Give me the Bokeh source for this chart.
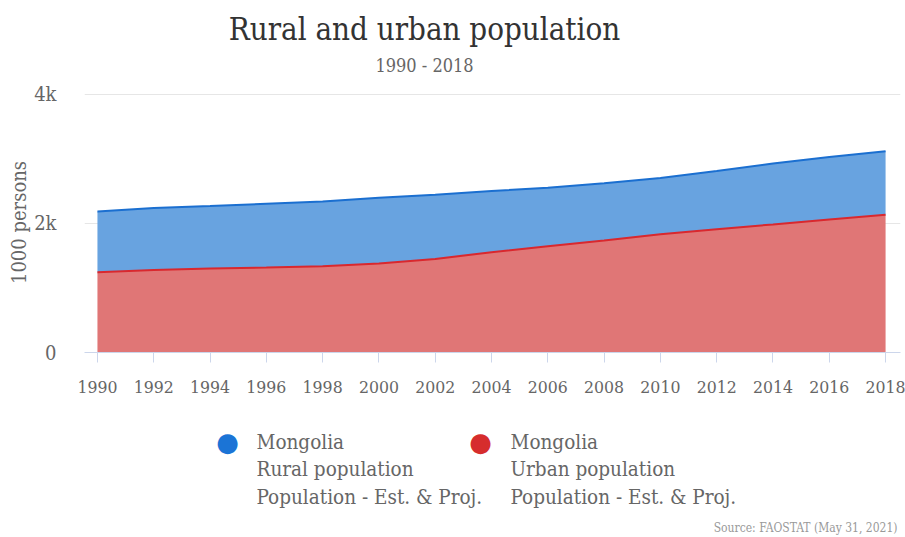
from bokeh.plotting import figure
from bokeh.models import ColumnDataSource, FixedTicker, Range1d, Label
from bokeh.layouts import column
from bokeh.embed import file_html
from bokeh.resources import INLINE

years = [1990, 1992, 1994, 1996, 1998, 2000, 2002, 2004, 2006, 2008, 2010, 2012, 2014, 2016, 2018]
urban = [1243, 1280, 1301, 1316, 1336, 1378, 1451, 1554, 1647, 1736, 1834, 1912, 1985, 2062, 2135]
rural = [943, 958, 968, 990, 1006, 1021, 995, 948, 908, 886, 870, 901, 943, 968, 984]
y_ticks = [0, 2000, 4000]
y_tick_labels = ["0", "2k", "4k"]
x_ticks = years
title_text = "Rural and urban population"
subtitle_text = "1990 - 2018"
y_label = "1000 persons"
legend_rural = ["Mongolia", "Rural population", "Population - Est. & Proj."]
legend_urban = ["Mongolia", "Urban population", "Population - Est. & Proj."]
source_text = "Source: FAOSTAT (May 31, 2021)"

FONT = "DejaVu Serif Condensed"
W = 905
TOP_H = 80
MAIN_H = 330
BOT_H = 537 - TOP_H - MAIN_H
FRAME_LEFT = 84   # column() aligns every child's frame to this edge


def blank(h):
    f = figure(width=W, height=h, output_backend="svg", toolbar_location=None,
               x_axis_location=None, y_axis_location=None,
               x_range=Range1d(0, 1), y_range=Range1d(0, 1),
               min_border_left=FRAME_LEFT, min_border_right=5,
               min_border_top=0, min_border_bottom=0)
    f.outline_line_color = None
    f.xgrid.grid_line_color = None
    f.ygrid.grid_line_color = None
    return f


def lab(f, h, x, y_top, text, size, color, align="left", font=FONT):
    f.add_layout(Label(x=x - FRAME_LEFT, y=h - y_top, x_units="screen", y_units="screen",
                       text=text, text_font=font, text_font_size=size, text_color=color,
                       text_align=align, text_baseline="middle"))


# ---- header
top = blank(TOP_H)
lab(top, TOP_H, 424, 28, title_text, "31px", "#333333", "center")
lab(top, TOP_H, 424, 65, subtitle_text, "18px", "#666666", "center")

# ---- main chart
total = [u + r for u, r in zip(urban, rural)]
src = ColumnDataSource(dict(year=years, urban=urban, rural=rural, total=total,
                            zero=[0] * len(years)))

p = figure(width=W, height=MAIN_H, output_backend="svg", toolbar_location=None,
           x_range=Range1d(1989.54, 2018.53), y_range=Range1d(0, 4030),
           min_border_left=FRAME_LEFT, min_border_right=5, min_border_top=92 - TOP_H,
           min_border_bottom=TOP_H + MAIN_H - 352)
p.outline_line_color = None

p.varea(x="year", y1="zero", y2="urban", source=src, fill_color="#E07676")
p.varea(x="year", y1="urban", y2="total", source=src, fill_color="#68A3E0")
p.line(x="year", y="urban", source=src, line_color="#D9282E", line_width=2)
p.line(x="year", y="total", source=src, line_color="#1B6FD0", line_width=2)

p.xgrid.grid_line_color = None
p.ygrid.grid_line_color = "#e6e6e6"
p.ygrid.ticker = FixedTicker(ticks=y_ticks)

p.yaxis.ticker = FixedTicker(ticks=y_ticks)
p.yaxis.major_label_overrides = {t: l for t, l in zip(y_ticks, y_tick_labels)}
p.yaxis.axis_line_color = None
p.yaxis.major_tick_line_color = None
p.yaxis.minor_tick_line_color = None
p.yaxis.major_label_text_font = FONT
p.yaxis.major_label_text_font_size = "20px"
p.yaxis.major_label_text_color = "#666666"
p.yaxis.major_label_standoff = 22
p.yaxis.axis_label = y_label
p.yaxis.axis_label_text_font = FONT
p.yaxis.axis_label_text_font_size = "20px"
p.yaxis.axis_label_text_font_style = "normal"
p.yaxis.axis_label_text_color = "#666666"
p.yaxis.axis_label_standoff = 0

p.xaxis.ticker = FixedTicker(ticks=x_ticks)
p.xaxis.axis_line_color = "#ccd6eb"
p.xaxis.major_tick_line_color = "#ccd6eb"
p.xaxis.major_tick_in = 0
p.xaxis.major_tick_out = 10
p.xaxis.minor_tick_line_color = None
p.xaxis.major_label_text_font = FONT
p.xaxis.major_label_text_font_size = "17.5px"
p.xaxis.major_label_text_color = "#666666"
p.xaxis.major_label_standoff = 18

# ---- legend / source
bot = blank(BOT_H)
y0 = TOP_H + MAIN_H
for cx, tx, color, lines in [(227, 256, "#1B74D6", legend_rural), (480, 510, "#D62D2D", legend_urban)]:
    lab(bot, BOT_H, cx, 441 - y0, "\u25CF", "26px", color, "center", font="DejaVu Sans")
    for i, t in enumerate(lines):
        lab(bot, BOT_H, tx, 441 - y0 + i * 27.5, t, "20.5px", "#666666")
lab(bot, BOT_H, 897, 527 - y0, source_text, "12px", "#999999", "right")

layout = column(top, p, bot, spacing=0)
open("out.html", "w").write(file_html(layout, INLINE))
